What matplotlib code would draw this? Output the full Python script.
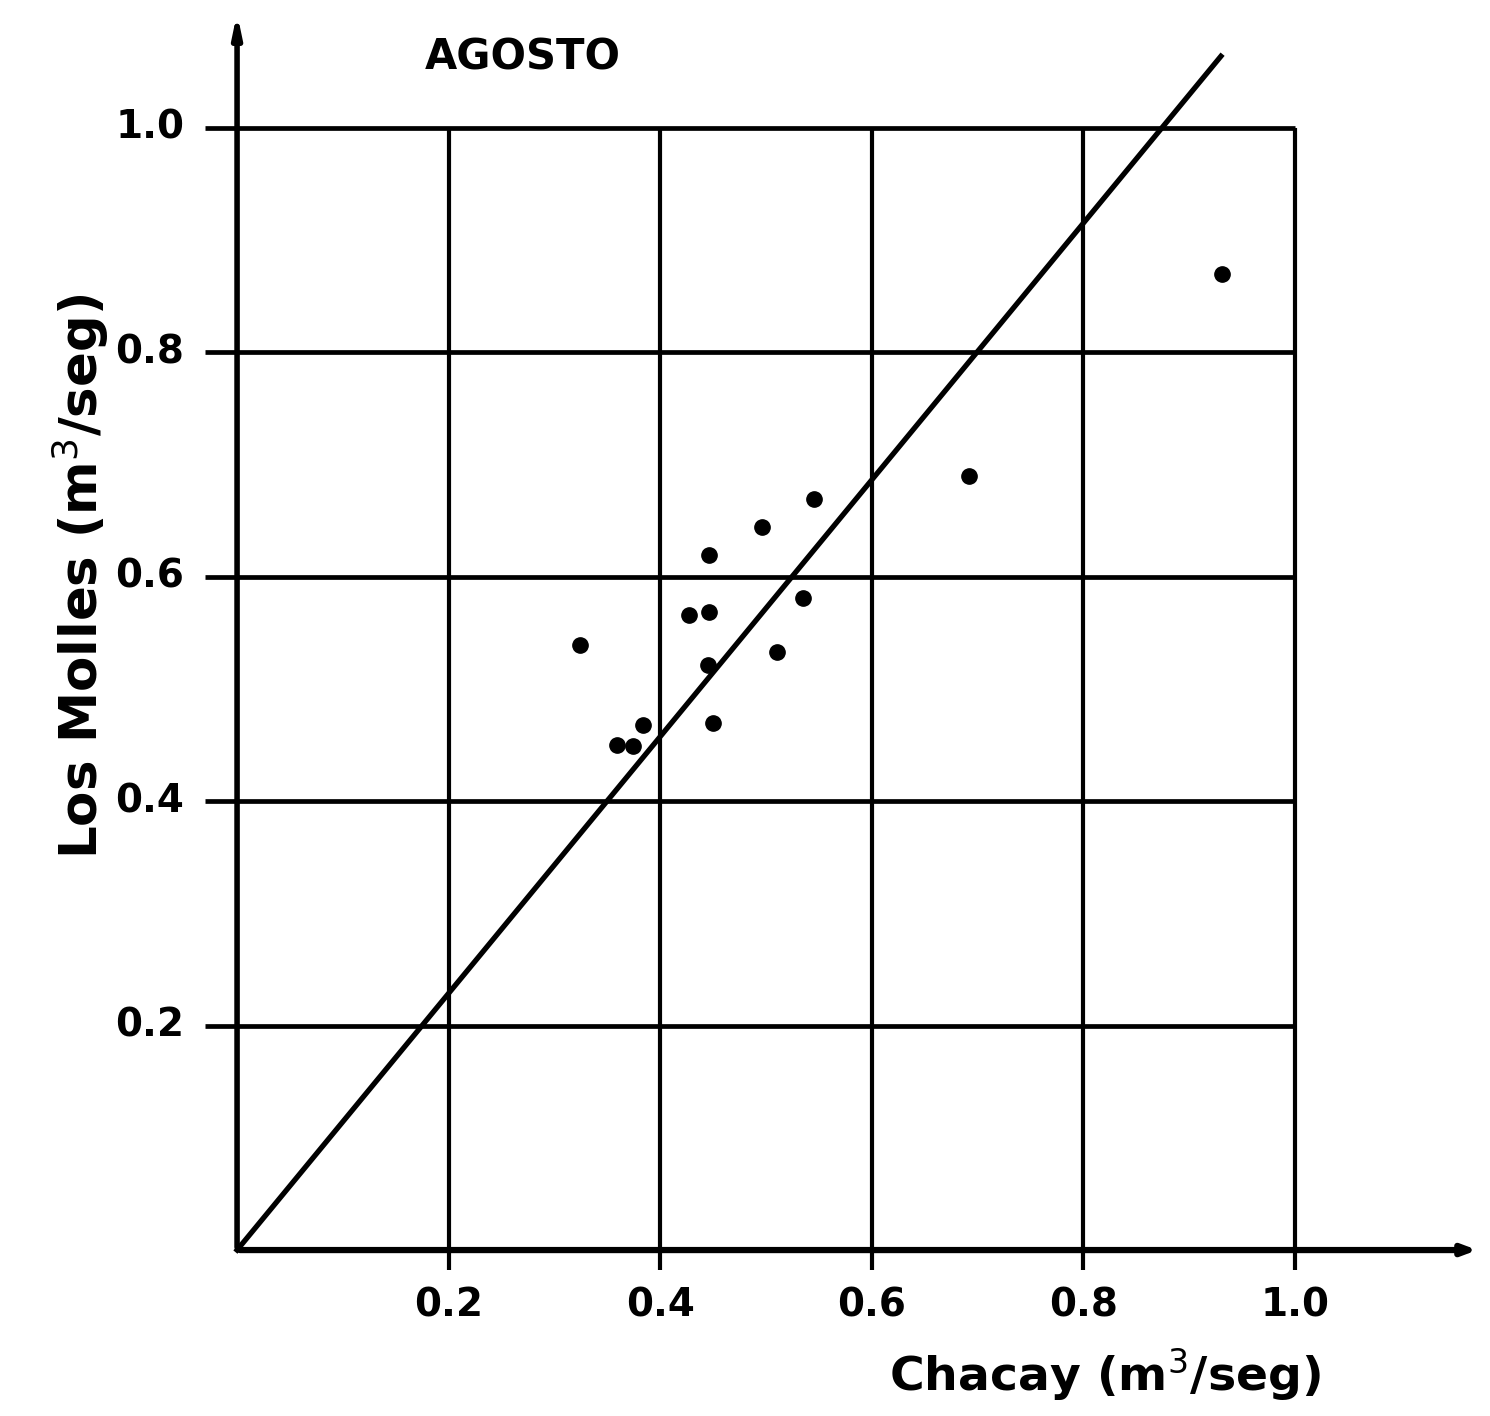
import numpy as np
import matplotlib
matplotlib.use("Agg")
import matplotlib.pyplot as plt

# data (m3/seg)
chacay = [0.324, 0.359, 0.374, 0.384, 0.427, 0.446, 0.446, 0.445, 0.450,
          0.496, 0.510, 0.535, 0.545, 0.692, 0.931]
molles = [0.539, 0.450, 0.449, 0.468, 0.566, 0.569, 0.619, 0.521, 0.470,
          0.644, 0.533, 0.581, 0.669, 0.690, 0.870]
slope = 1.144          # fitted line through the origin
line_x = [0.0, 0.93]
ticks = [0.2, 0.4, 0.6, 0.8, 1.0]
tick_labels = ["0.2", "0.4", "0.6", "0.8", "1.0"]

plt.rcParams['font.family'] = ['DejaVu Sans']

fig = plt.figure(figsize=(14.9, 14.16), dpi=100)
ax = fig.add_axes([0.1307, 0.0855, 0.8662, 0.9113])
ax.set_xlim(-0.04, 1.18)
ax.set_ylim(-0.04, 1.11)
ax.axis("off")

# grid
for t in ticks:
    ax.plot([-0.03, 1.0], [t, t], color="black", lw=3.4, solid_capstyle="butt")
    ax.plot([t, t], [-0.018, 1.0], color="black", lw=3.0, solid_capstyle="butt")

# axes with arrows
ax.annotate("", xy=(1.175, 0.0), xytext=(0.0, 0.0),
            arrowprops=dict(arrowstyle="-|>,head_length=0.8,head_width=0.3",
                            color="black", lw=4.5))
ax.annotate("", xy=(0.0, 1.105), xytext=(0.0, 0.0),
            arrowprops=dict(arrowstyle="-|>,head_length=1.2,head_width=0.25",
                            color="black", lw=4.0))

# regression line
lx = np.array(line_x)
ax.plot(lx, slope * lx, color="black", lw=3.8)

# points
ax.plot(chacay, molles, "o", color="black", markersize=11)

# tick labels
for t, lab in zip(ticks, tick_labels):
    ax.text(t, -0.049, lab, ha="center", va="center", fontsize=28, fontweight="bold")
    ax.text(-0.05, t, lab, ha="right", va="center", fontsize=28, fontweight="bold")

ax.text(0.27, 1.063, "AGOSTO", ha="center", va="center", fontsize=30,
        fontweight="bold")
ax.text(0.82, -0.111, "Chacay (m$^3$/seg)", ha="center", va="center",
        fontsize=34, fontweight="bold")
ax.text(-0.148, 0.6, "Los Molles (m$^3$/seg)", ha="center", va="center",
        rotation=90, fontsize=37, fontweight="bold")

fig.savefig("out.png", dpi=100)
